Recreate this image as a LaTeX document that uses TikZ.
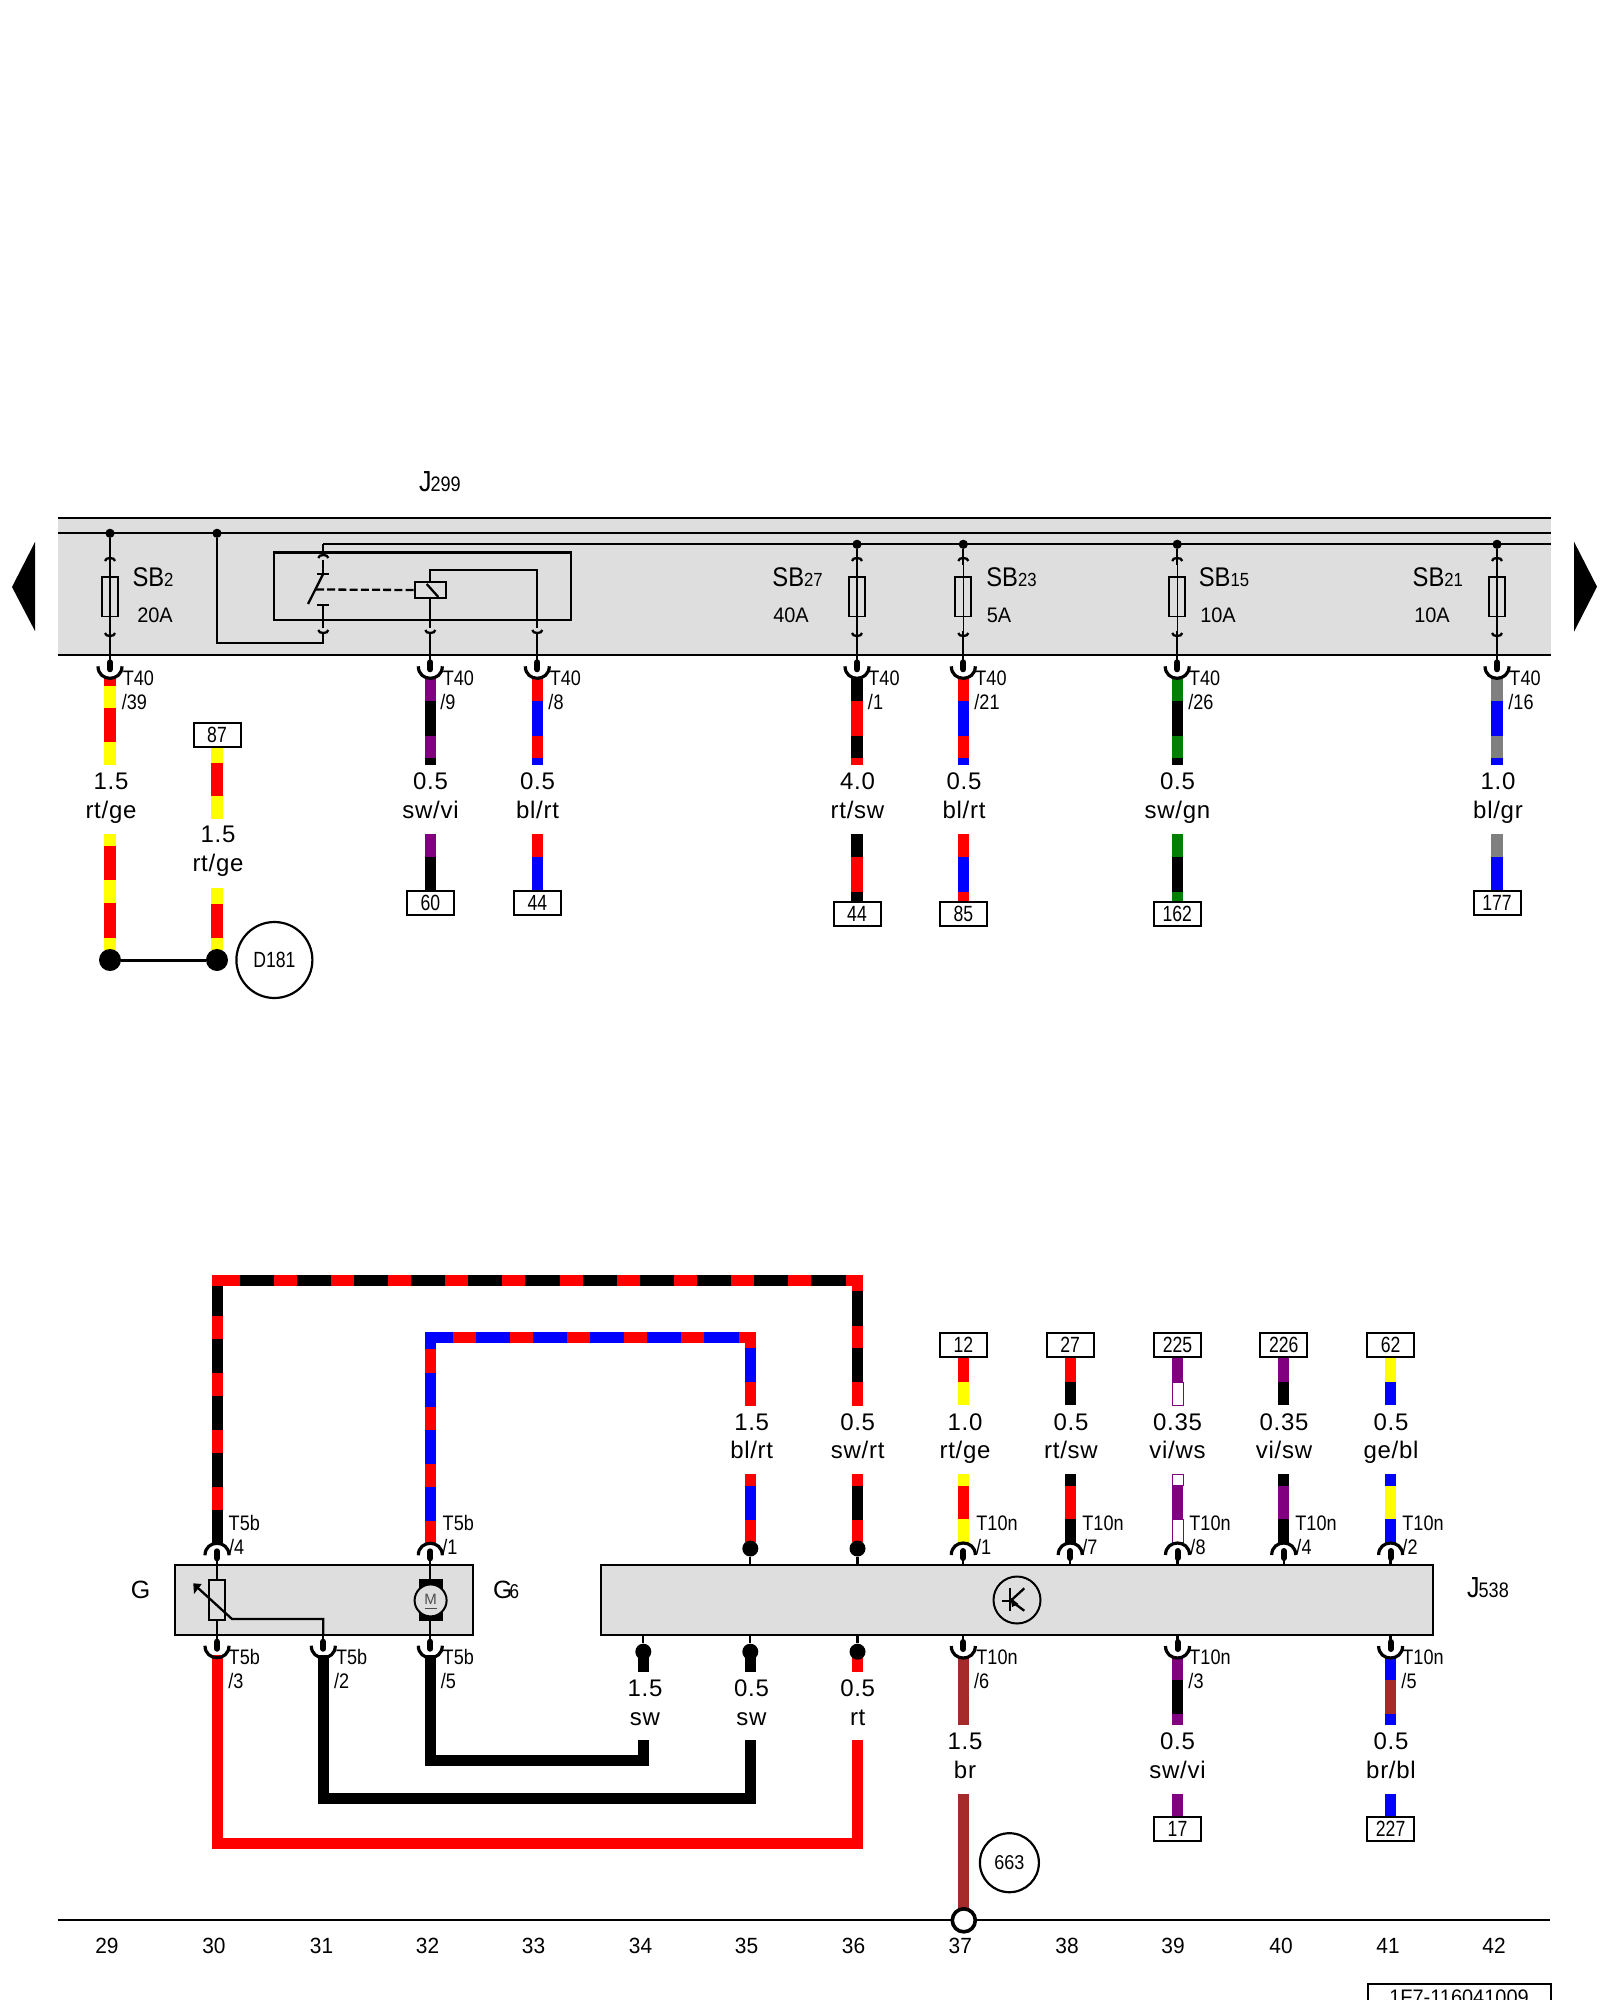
\documentclass[tikz,border=0pt]{standalone}
\usepackage{fontspec}
\setmainfont{Liberation Sans}
\newfontfamily\gfont[LetterSpace=3]{Liberation Sans}
\usetikzlibrary{arrows.meta}
\definecolor{cR}{RGB}{255,0,0}
\definecolor{cY}{RGB}{255,255,0}
\definecolor{cK}{RGB}{0,0,0}
\definecolor{cB}{RGB}{0,0,255}
\definecolor{cV}{RGB}{128,0,128}
\definecolor{cG}{RGB}{0,128,0}
\definecolor{cA}{RGB}{128,128,128}
\definecolor{cN}{RGB}{165,42,42}
\definecolor{band}{RGB}{222,222,222}
\newcounter{lbl}
\newcommand\fs[1]{\fontsize{#1}{#1}\selectfont}
\newcommand\nar[2]{\scalebox{#1}[1]{#2}}
\newcommand\pn[1]{\scalebox{.86}[1]{#1}}
\newcommand\sbl[2]{\scalebox{.88}[1]{SB\fs{9.5}#2}}
\newcommand\wireV[3]{\xdef\wprev{#2}\foreach \col/\yy in {#3}{\fill[\col] (#1-5.7,\wprev) rectangle (#1+5.7,\yy);\xdef\wprev{\yy}}}
\newcommand\wireH[3]{\xdef\wprev{#2}\foreach \col/\xx in {#3}{\fill[\col] (\wprev,#1-5.7) rectangle (\xx,#1+5.7);\xdef\wprev{\xx}}}
\newcommand\lb[4]{\stepcounter{lbl}\node[#1] (t\arabic{lbl}) at (#2,#3) {#4};}
\newcommand\gauge[4]{\lb{gtext}{#1}{#2+8}{#3}\lb{gtext}{#1}{#2+36.7}{#4}}
\newcommand\pinB[2]{%
  \draw[thinl] (#1,#2) -- (#1,#2+6);
  \draw[pill] (#1,#2+7) -- (#1,#2+14);
  \draw[cup] (#1-12,#2+11) .. controls (#1-12,#2+27) and (#1+12,#2+27) .. (#1+12,#2+11);}
\newcommand\pinT[2]{%
  \draw[thinl] (#1,#2) -- (#1,#2-6);
  \draw[pill] (#1,#2-7) -- (#1,#2-14);
  \draw[cup] (#1-12,#2-10) .. controls (#1-12,#2-26) and (#1+12,#2-26) .. (#1+12,#2-10);}
\newcommand\tick[2]{%
  \draw[thinl] (#1-5,#2+3) .. controls (#1-5,#2-1) and (#1+5,#2-1) .. (#1+5,#2+3);}
\newcommand\tock[2]{%
  \draw[thinl] (#1-5,#2) .. controls (#1-5,#2+4) and (#1+5,#2+4) .. (#1+5,#2);}
\newcommand\fuse[3]{%
  \node[jdot] (#1j) at (#2,#3) {};
  \coordinate (#1b) at (#2,655.3);
  \draw[thinl] (#1j) -- (#2,565);
  \draw[hair] (#2,565) -- (#2,631);
  \draw[thinl] (#2,631) -- (#1b);
  \tick{#2}{558}\tock{#2}{633}
  \node[fusebox] (#1f) at (#2,596.7) {};
  \draw[hair] (#2,577) -- (#2,616.4);}
\newcommand\numbox[4]{\node[nbox] (#1) at (#2,#3+12) {\nar{.8}{#4}};}
\tikzset{
  thinl/.style={line width=1.15pt,draw=black},
  hair/.style={line width=.55pt,draw=black},
  pill/.style={line width=3pt,draw=black,line cap=round},
  cup/.style={line width=1.6pt,draw=black},
  jdot/.style={circle,fill=black,inner sep=0,minimum size=4.6pt},
  bdot/.style={circle,fill=black,inner sep=0,minimum size=8pt},
  gdot/.style={circle,fill=black,inner sep=0,minimum size=11pt},
  fusebox/.style={draw=black,line width=.9pt,fill=band,minimum width=8pt,minimum height=19.7pt,inner sep=0},
  nbox/.style={draw=black,line width=1pt,fill=white,minimum width=23.5pt,minimum height=12pt,inner sep=0,font=\fs{11}},
  gtext/.style={inner sep=0,anchor=base,font=\gfont\fs{12}},
  ptext/.style={inner sep=0,font=\fs{10.5}},
  colnum/.style={inner sep=0,font=\fs{11}},
  ampt/.style={inner sep=0,font=\fs{10.5}},
  bigt/.style={inner sep=0,font=\fs{13.5}},
  wht/.style={fill=white,draw=cV,line width=.3pt},
}
\begin{document}
\begin{tikzpicture}[x=.5pt,y=-.5pt]
\useasboundingbox (0,0) rectangle (1600,2000);
% ---------- top band ----------
\fill[band] (57.5,518) rectangle (1550.7,655.3);
\coordinate (busAl) at (57.5,518); \coordinate (busAr) at (1550.7,518);
\coordinate (busBl) at (57.5,533.3); \coordinate (busBr) at (1550.7,533.3);
\coordinate (busDl) at (57.5,655.3); \coordinate (busDr) at (1550.7,655.3);
\coordinate (busCl) at (323.3,544.3); \coordinate (busCr) at (1550.7,544.3);
\draw[thinl] (busAl) -- (busAr);
\draw[thinl] (busBl) -- (busBr);
\draw[thinl] (busDl) -- (busDr);
\draw[thinl] (busCl) -- (busCr);
\fill (35,542) -- (12,587) -- (35,631) -- cycle;
\fill (1574,541.7) -- (1597,586.7) -- (1574,631.7) -- cycle;
\lb{inner sep=0}{440}{482}{\nar{.86}{\fs{14.5}J\fs{10.5}\kern-.6pt 299}}
% fuses
\fuse{fa}{110}{533.3}
\fuse{fd}{857}{544.3}
\fuse{fe}{963.3}{544.3}
\fuse{ff}{1177.2}{544.3}
\fuse{fg}{1497}{544.3}
\lb{bigt}{153}{577}{\sbl{}{2}}
\lb{ampt}{155}{615}{\nar{.95}{20A}}
\lb{bigt}{797.6}{577.3}{\sbl{}{27}}
\lb{ampt}{791}{615}{\nar{.95}{40A}}
\lb{bigt}{1011.5}{577.3}{\sbl{}{23}}
\lb{ampt}{999}{615}{\nar{.95}{5A}}
\lb{bigt}{1224}{577.3}{\sbl{}{15}}
\lb{ampt}{1218}{615}{\nar{.95}{10A}}
\lb{bigt}{1437.8}{577.3}{\sbl{}{21}}
\lb{ampt}{1432}{615}{\nar{.95}{10A}}
% relay
\node[jdot] (rj) at (217,533.3) {};
\coordinate (rc) at (323.3,643.3);
\draw[thinl] (rj) |- (rc) -- (323.3,633);
\tock{323.3}{630}
\draw[thinl] (323.3,628) -- (323.3,604.7);
\draw[thinl] (317.3,604.7) -- (329.3,604.7);
\node[draw=black,line width=1.15pt,minimum width=148.5pt,minimum height=33.7pt,inner sep=0] (rbox) at (422.8,586.3) {};
\draw[thinl] (busCl) -- (323.3,553);
\tick{323.3}{555}
\draw[thinl] (323.3,560) -- (323.3,574.3);
\draw[thinl] (317.3,574.3) -- (329.3,574.3);
\draw[thinl] (323,574.3) -- (308,604);
\node[draw=black,line width=1.15pt,fill=band,minimum width=15.3pt,minimum height=7.7pt,inner sep=0] (coil) at (430.6,590) {};
\draw[thinl,dashed,dash pattern=on 4pt off 1.6pt] (316,589.5) -- (coil.west);
\draw[thinl] (426.7,584) -- (438.3,597);
\coordinate (ca) at (430.3,570); \coordinate (cb) at (537.3,570);
\draw[thinl] (430.3,582.3) -- (ca) -- (cb) -- (537.3,628);
\draw[thinl] (430.3,597.7) -- (430.3,628);
\tock{430.3}{630}\tock{537.3}{630}
\draw[thinl] (430.3,632) -- (430.3,655.3);
\draw[thinl] (537.3,632) -- (537.3,655.3);
% ---------- top stubs ----------
\wireV{110}{678.6}{cR/685.7,cY/708,cR/742,cY/765.4}
\wireV{430.3}{678.6}{cV/701.4,cK/735.7,cV/758,cK/765.4}
\wireV{537.3}{678.6}{cR/701.4,cB/735.7,cR/758,cB/765.4}
\wireV{857}{678.6}{cK/701.4,cR/735.7,cK/758,cR/765.4}
\wireV{963.3}{678.6}{cR/701.4,cB/735.7,cR/758,cB/765.4}
\wireV{1177.2}{678.6}{cG/701.4,cK/735.7,cG/758,cK/765.4}
\wireV{1497}{678.6}{cA/701.4,cB/735.7,cA/758,cB/765.4}
\foreach \xx in {110,430.3,537.3,857,963.3,1177.2,1497}{\pinB{\xx}{655.3}}
\lb{ptext}{138.4}{678.6}{\pn{T40}}\lb{ptext}{134.4}{701.8}{\pn{/39}}
\lb{ptext}{458.4}{678.6}{\pn{T40}}\lb{ptext}{448}{701.8}{\pn{/9}}
\lb{ptext}{565.4}{678.6}{\pn{T40}}\lb{ptext}{556}{701.8}{\pn{/8}}
\lb{ptext}{884}{678.6}{\pn{T40}}\lb{ptext}{875.5}{701.8}{\pn{/1}}
\lb{ptext}{991}{678.6}{\pn{T40}}\lb{ptext}{987}{701.8}{\pn{/21}}
\lb{ptext}{1204.6}{678.6}{\pn{T40}}\lb{ptext}{1200.8}{701.8}{\pn{/26}}
\lb{ptext}{1525}{678.6}{\pn{T40}}\lb{ptext}{1521}{701.8}{\pn{/16}}
\gauge{111}{781.5}{1.5}{rt/ge}
\gauge{218}{834.5}{1.5}{rt/ge}
\gauge{430.5}{781.5}{0.5}{sw/vi}
\gauge{537.5}{781.5}{0.5}{bl/rt}
\gauge{857.5}{781.5}{4.0}{rt/sw}
\gauge{964}{781.5}{0.5}{bl/rt}
\gauge{1177.5}{781.5}{0.5}{sw/gn}
\gauge{1498}{781.5}{1.0}{bl/gr}
% ---------- lower stubs upper section ----------
\wireV{110}{834.3}{cY/846.4,cR/880.4,cY/902.9,cR/937.5,cY/950}
\wireV{217}{746.8}{cY/762.5,cR/796.4,cY/819}
\wireV{217}{887.5}{cY/903.6,cR/937.7,cY/950}
\numbox{b87}{217}{723}{87}
\node[gdot] (da) at (110,960) {};
\node[gdot] (db) at (217,960) {};
\draw[line width=1.5pt] (da) -- (db);
\node[draw=black,line width=1.1pt,circle,minimum size=38pt,inner sep=0] (cD) at (274.4,960) {};
\lb{inner sep=0,font=\fs{11}}{274.4}{960}{\nar{.8}{D181}}
\wireV{430.3}{834.3}{cV/857,cK/891}
\numbox{b60}{430.3}{891}{60}
\wireV{537.3}{834.3}{cR/857,cB/891}
\numbox{b44a}{537.3}{891}{44}
\wireV{857}{834.3}{cK/857.3,cR/891.7,cK/901.7}
\numbox{b44b}{857}{901.7}{44}
\wireV{963.3}{834.3}{cR/857.3,cB/891.7,cR/901.7}
\numbox{b85}{963.3}{901.7}{85}
\wireV{1177.2}{834.3}{cG/857.3,cK/891.7,cG/901.7}
\numbox{b162}{1177.2}{901.7}{162}
\wireV{1497}{834.3}{cA/857.3,cB/891}
\numbox{b177}{1497}{891}{177}
% ---------- bottom section: long wires ----------
\wireH{1280.3}{212}{cR/240,cK/274,cR/296.7,cK/331,cR/354,cK/388,cR/411,cK/445,cR/468,cK/502,cR/525,cK/559.7,cR/582.5,cK/616.7,cR/639.5,cK/674,cR/697,cK/731,cR/754,cK/788,cR/811,cK/845.7,cR/863.3}
\wireV{217.7}{1286}{cK/1315.7,cR/1338.7,cK/1372.7,cR/1395.7,cK/1430,cR/1452.7,cK/1486.7,cR/1510,cK/1543}
\wireV{857.7}{1286}{cR/1291,cK/1325.7,cR/1348.3,cK/1382.3,cR/1405.7}
\wireH{1337.3}{425}{cB/452.7,cR/476,cB/510,cR/533,cB/567,cR/590,cB/624,cR/647,cB/681.3,cR/704,cB/739,cR/756.3}
\wireV{430.6}{1343}{cB/1349.3,cR/1372.7,cB/1406.7,cR/1429.7,cB/1463.7,cR/1486.7,cB/1520.7,cR/1543}
\wireV{750.7}{1343}{cR/1348,cB/1382.3,cR/1405.7}
\wireV{750.7}{1474.3}{cR/1485.7,cB/1520,cR/1541.7}
\wireV{857.7}{1474.3}{cR/1485.7,cK/1520,cR/1541.7}
\gauge{751.7}{1422}{1.5}{bl/rt}
\gauge{857.7}{1422}{0.5}{sw/rt}
% bottom long wires
\coordinate (ra) at (217.3,1843.3); \coordinate (rb) at (857.7,1843.3);
\draw[line width=5.7pt,draw=cR] (217.3,1655) -- (ra) -- (rb) -- (857.7,1740);
\coordinate (ka) at (323.3,1798.5); \coordinate (kb) at (750.3,1798.5);
\draw[line width=5.7pt,draw=black] (323.3,1655) -- (ka) -- (kb) -- (750.3,1740);
\coordinate (la) at (430.3,1760.7); \coordinate (lb) at (643.3,1760.7);
\draw[line width=5.7pt,draw=black] (430.3,1655) -- (la) -- (lb) -- (643.3,1740);
\wireV{643.3}{1652}{cK/1672.3}
\wireV{750.3}{1652}{cK/1672.3}
\wireV{857.7}{1652}{cR/1672.3}
\gauge{645}{1688.5}{1.5}{sw}
\gauge{751.5}{1688.5}{0.5}{sw}
\gauge{857.7}{1688.5}{0.5}{rt}
% G box
\node[draw=black,line width=1.15pt,fill=band,minimum width=148.85pt,minimum height=34.7pt,inner sep=0] (gbox) at (323.85,1600) {};
\foreach \xx in {217,430.3}{\pinT{\xx}{1565.3}}
\foreach \xx in {217,323.3,430.3}{\pinB{\xx}{1634.7}}
\coordinate (ga) at (217,1565.3);\coordinate (gb) at (217,1634.7);
\draw[thinl] (ga) -- (gb);
\node[draw=black,line width=1pt,fill=band,minimum width=8pt,minimum height=19.8pt,inner sep=0] (res) at (217,1600.2) {};
\fill (193.3,1583.3) -- (201.7,1584) -- (194,1594) -- cycle;
\coordinate (rz) at (323.3,1619);
\draw[thinl] (198,1588) -- (232,1619) -- (rz) -- (323.3,1634.7);
\draw[thinl] (430.3,1565.3) -- (430.3,1580);
\draw[thinl] (430.3,1620) -- (430.3,1634.7);
\fill (419,1578.7) rectangle (442.7,1620.7);
\node[circle,draw=black,line width=1pt,fill=band,minimum size=16pt,inner sep=0] (mot) at (430.6,1600.4) {};
\lb{inner sep=0,font=\fs{7.5},text=black!70}{430.6}{1599}{M}
\draw[line width=.5pt,black!70] (424.5,1608) -- (436.5,1608);
\lb{inner sep=0,font=\fs{12.5}}{140.7}{1590}{G}
\lb{inner sep=0}{506}{1590}{\fs{12.5}G\kern-1.5pt\fs{10}\nar{.85}{6}}
\lb{ptext}{244.3}{1523.3}{\pn{T5b}}\lb{ptext}{236.7}{1546.7}{\pn{/4}}
\lb{ptext}{458.3}{1523.3}{\pn{T5b}}\lb{ptext}{450}{1546.7}{\pn{/1}}
\lb{ptext}{244.3}{1657.3}{\pn{T5b}}\lb{ptext}{236}{1680.7}{\pn{/3}}
\lb{ptext}{351.7}{1657.3}{\pn{T5b}}\lb{ptext}{341.7}{1680.7}{\pn{/2}}
\lb{ptext}{458.3}{1657.3}{\pn{T5b}}\lb{ptext}{448.3}{1680.7}{\pn{/5}}
% J box
\node[draw=black,line width=1.15pt,fill=band,minimum width=415.85pt,minimum height=35pt,inner sep=0] (jbox) at (1016.85,1600) {};
\node[bdot] (p35t) at (750.3,1548.5) {};
\node[bdot] (p36t) at (857.5,1548.5) {};
\node[bdot] (p34b) at (643.3,1651.7) {};
\node[bdot] (p35b) at (750.3,1651.7) {};
\node[bdot] (p36b) at (857.5,1651.7) {};
\draw[thinl] (p35t) -- (750.3,1565);
\draw[thinl] (p36t) -- (857.5,1565);
\draw[thinl] (p34b) -- (643.3,1635);
\draw[thinl] (p35b) -- (750.3,1635);
\draw[thinl] (p36b) -- (857.5,1635);
\node[circle,draw=black,line width=1pt,minimum size=23.5pt,inner sep=0] (tr) at (1017,1600) {};
\draw[thinl] (1001.7,1600.7) -- (1012,1600.7);
\draw[thinl] (1010,1588) -- (1010,1611);
\draw[thinl] (1024.3,1588.3) -- (1010.7,1600.7) -- (1024.3,1610.7);
\fill (1010.7,1598) -- (1018.5,1604) -- (1012,1607) -- cycle;
\lb{inner sep=0}{1488}{1588}{\nar{.86}{\fs{14.5}J\fs{10.5}\kern-.6pt 538}}
% right upper stubs
\wireV{963.3}{1356.7}{cR/1382.3,cY/1405.3}
\wireV{1070.2}{1356.7}{cR/1382.3,cK/1405.3}
\wireV{1177.5}{1356.7}{cV/1382.3,wht/1405.3}
\wireV{1283.7}{1356.7}{cV/1382.3,cK/1405.3}
\wireV{1390.6}{1356.7}{cY/1382.3,cB/1405.3}
\numbox{b12}{963.3}{1332.7}{12}
\numbox{b27}{1070.2}{1332.7}{27}
\numbox{b225}{1177.5}{1332.7}{225}
\numbox{b226}{1283.7}{1332.7}{226}
\numbox{b62}{1390.6}{1332.7}{62}
\gauge{965}{1422}{1.0}{rt/ge}
\gauge{1071}{1422}{0.5}{rt/sw}
\gauge{1177.5}{1422}{0.35}{vi/ws}
\gauge{1284}{1422}{0.35}{vi/sw}
\gauge{1391}{1422}{0.5}{ge/bl}
\wireV{963.3}{1474.3}{cY/1485.7,cR/1519.3,cY/1543}
\wireV{1070.2}{1474.3}{cK/1485.7,cR/1519.3,cK/1543}
\wireV{1177.5}{1474.3}{wht/1485.7,cV/1519.3,wht/1543}
\wireV{1283.7}{1474.3}{cK/1485.7,cV/1519.3,cK/1543}
\wireV{1390.6}{1474.3}{cB/1485.7,cY/1519.3,cB/1543}
\foreach \xx in {963.3,1070.2,1177.5,1283.7,1390.6}{\pinT{\xx}{1565}}
\lb{ptext}{997}{1523.3}{\pn{T10n}}\lb{ptext}{983.7}{1546.7}{\pn{/1}}
\lb{ptext}{1103}{1523.3}{\pn{T10n}}\lb{ptext}{1089.8}{1546.7}{\pn{/7}}
\lb{ptext}{1210}{1523.3}{\pn{T10n}}\lb{ptext}{1198}{1546.7}{\pn{/8}}
\lb{ptext}{1316}{1523.3}{\pn{T10n}}\lb{ptext}{1304}{1546.7}{\pn{/4}}
\lb{ptext}{1423}{1523.3}{\pn{T10n}}\lb{ptext}{1410}{1546.7}{\pn{/2}}
% right lower stubs
\wireV{963.3}{1658}{cN/1725.3}
\wireV{1177.5}{1658}{cV/1680,cK/1714,cV/1725.3}
\wireV{1390.6}{1658}{cB/1680,cN/1714,cB/1725.3}
\foreach \xx in {963.3,1177.5,1390.6}{\pinB{\xx}{1635}}
\lb{ptext}{997}{1657.3}{\pn{T10n}}\lb{ptext}{981.6}{1680.7}{\pn{/6}}
\lb{ptext}{1210}{1657.3}{\pn{T10n}}\lb{ptext}{1196}{1680.7}{\pn{/3}}
\lb{ptext}{1423}{1657.3}{\pn{T10n}}\lb{ptext}{1409}{1680.7}{\pn{/5}}
\gauge{965}{1741.7}{1.5}{br}
\gauge{1177.5}{1741.7}{0.5}{sw/vi}
\gauge{1391}{1741.7}{0.5}{br/bl}
\wireV{963.3}{1794.3}{cN/1910}
\wireV{1177.5}{1794.3}{cV/1817}
\numbox{b17}{1177.5}{1816.7}{17}
\wireV{1390.6}{1794.3}{cB/1817}
\numbox{b227}{1390.6}{1816.7}{227}
\node[circle,draw=black,line width=1.1pt,minimum size=29.5pt,inner sep=0] (c663) at (1009.4,1862.7) {};
\lb{inner sep=0,font=\fs{10}}{1009.4}{1862.7}{\nar{.9}{663}}
% ground
\coordinate (gl) at (57.5,1920.3); \coordinate (gr) at (1550.4,1920.3);
\draw[thinl] (gl) -- (gr);
\node[circle,draw=black,line width=1.8pt,fill=white,minimum size=11.5pt,inner sep=0] (gnd) at (963.8,1920.3) {};
\foreach \nn/\xx in {29/107,30/214,31/321.5,32/427.5,33/533.5,34/640.5,35/746.5,36/853.5,37/960.3,38/1067,39/1173,40/1281,41/1388,42/1494}{\lb{colnum}{\xx}{1945.7}{\nar{.95}{\nn}}}
% stamp
\begin{scope}
\clip (1300,1960) rectangle (1600,2000);
\draw[line width=1pt] (1367.9,2020) -- (1367.9,1984.3) -- (1551,1984.3) -- (1551,2020);
\lb{inner sep=0,font=\fs{10.5}}{1459}{1997}{\nar{.95}{1F7-116041009}}
\end{scope}
\end{tikzpicture}
\end{document}
